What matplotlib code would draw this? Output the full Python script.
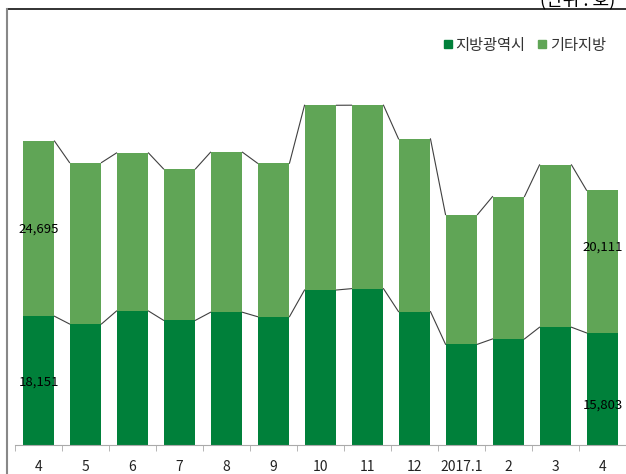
import matplotlib
matplotlib.use("Agg")
import matplotlib.pyplot as plt
from matplotlib.lines import Line2D
import numpy as np

plt.rcParams['font.family'] = ['Noto Sans CJK KR', 'DejaVu Sans']

months = ["4", "5", "6", "7", "8", "9", "10", "11", "12", "2017.1", "2", "3", "4"]
metro = [18151, 17060, 18890, 17580, 18710, 18090, 21850, 22040, 18800, 14200, 14950, 16600, 15803]
other = [24695, 22750, 22280, 21340, 22560, 21630, 26040, 25860, 24350, 18280, 20070, 22890, 20111]
series_names = ["지방광역시", "기타지방"]

dark = "#00803a"
light = "#60a556"

fig = plt.figure(figsize=(6.26, 4.74), dpi=100)
ax = fig.add_axes([15 / 626, 29 / 474, 611 / 626, 415 / 474])

x = np.arange(len(months))
w = 0.68
ax.bar(x, metro, w, color=dark, zorder=2)
ax.bar(x, other, w, bottom=metro, color=light, zorder=2)

# series lines between bars
tops = np.array(metro) + np.array(other)
for i in range(len(x) - 1):
    ax.plot([x[i] + w / 2, x[i + 1] - w / 2], [metro[i], metro[i + 1]], color="#404040", lw=0.8, zorder=1)
    ax.plot([x[i] + w / 2, x[i + 1] - w / 2], [tops[i], tops[i + 1]], color="#404040", lw=0.8, zorder=1)

# data labels on first and last bar
ax.text(x[0], metro[0] / 2 - 200, f"{metro[0]:,}", ha="center", va="center", fontsize=9.5)
ax.text(x[0], metro[0] + other[0] / 2, f"{other[0]:,}", ha="center", va="center", fontsize=9.5)
ax.text(x[-1], metro[-1] * 0.36, f"{metro[-1]:,}", ha="center", va="center", fontsize=9.5)
ax.text(x[-1], metro[-1] + other[-1] * 0.6, f"{other[-1]:,}", ha="center", va="center", fontsize=9.5)

ax.set_xlim(-0.5, len(x) - 0.5)
ax.set_ylim(0, 58500)
ax.set_xticks(x)
ax.set_xticklabels(months, fontsize=10, color="#222222")
ax.set_xticks(np.arange(-0.5, len(x), 1), minor=True)
ax.tick_params(axis="x", which="major", length=0, pad=11)
ax.tick_params(axis="x", which="minor", length=4, color="#aaaaaa")
ax.set_yticks([])
for s in ["top", "right", "left"]:
    ax.spines[s].set_visible(False)
ax.spines["bottom"].set_color("#aaaaaa")

handles = [Line2D([], [], marker="s", ls="", color=dark, markersize=6),
           Line2D([], [], marker="s", ls="", color=light, markersize=6)]
fig.legend(handles, series_names, loc="center right", bbox_to_anchor=(606 / 626, 1 - 45 / 474),
           ncol=2, frameon=False, fontsize=11, handlelength=0.6, handletextpad=0.2,
           columnspacing=0.8, borderpad=0, borderaxespad=0, labelcolor="#333333")

# outer frame (top and left edges visible)
fig.add_artist(Line2D([7 / 626, 1], [1 - 9 / 474, 1 - 9 / 474], color="#222222", lw=1.3))
fig.add_artist(Line2D([7 / 626, 7 / 626], [0, 1 - 9 / 474], color="#888888", lw=1.5))

fig.text(615 / 626, 1.0, "(단위 : 호)", ha="right", va="center", fontsize=13)

fig.savefig("out.png", dpi=100)
